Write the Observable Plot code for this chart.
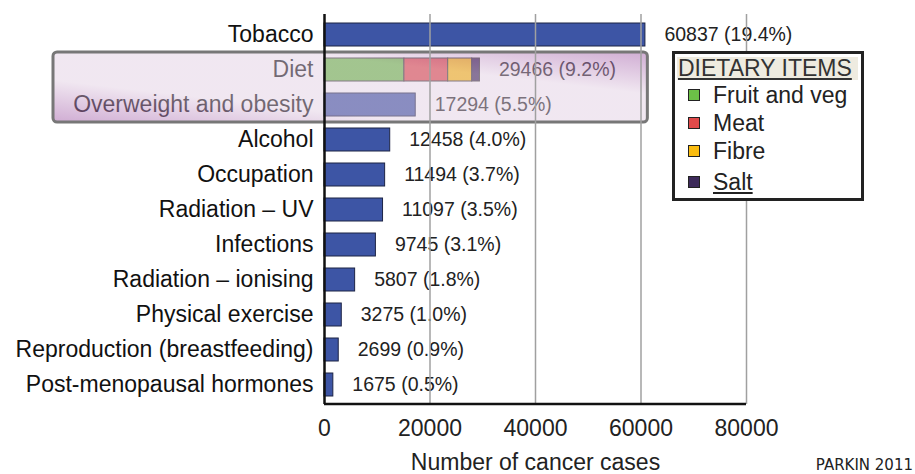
<!DOCTYPE html>
<html>
<head>
<meta charset="utf-8">
<script src="https://cdn.jsdelivr.net/npm/d3@7"></script>
<script src="https://cdn.jsdelivr.net/npm/@observablehq/plot@0.6"></script>
<style>
  body { margin: 0; background: #fff; }
  #wrap { position: relative; width: 915px; height: 474px; font-family: "Liberation Sans", Arial, sans-serif; background: #fff; overflow: hidden; }
  #wrap svg { position: absolute; left: 0; top: 0; }
  #legend { position: absolute; left: 672px; top: 51px; width: 186px; height: 144px; border: 3px solid #222; background: #fff; }
  #legend .hdr { position: absolute; left: 2px; top: 3px; width: 181px; height: 23px; background: #eeebe0; color: #333; font-size: 23px; line-height: 23px; text-decoration: underline; padding-left: 1px; box-sizing: border-box; }
  #legend .row { position: absolute; left: 13px; height: 26px; display: flex; align-items: center; font-size: 23px; color: #222; white-space: nowrap; }
  #legend .sw { width: 10px; height: 10px; border: 1.5px solid #222; margin-right: 13px; }
  #credit { position: absolute; right: 2px; top: 456px; font-family: "DejaVu Sans", sans-serif; font-size: 15px; color: #222; }
</style>
</head>
<body>
<div id="wrap"></div>
<script>
// ---- data ----
const categories = ["Tobacco", "Diet", "Overweight and obesity", "Alcohol", "Occupation",
  "Radiation – UV", "Infections", "Radiation – ionising", "Physical exercise",
  "Reproduction (breastfeeding)", "Post-menopausal hormones"];
const cases = [60837, 29466, 17294, 12458, 11494, 11097, 9745, 5807, 3275, 2699, 1675];
const percents = [19.4, 9.2, 5.5, 4.0, 3.7, 3.5, 3.1, 1.8, 1.0, 0.9, 0.5];
const dietItems = ["Fruit and veg", "Meat", "Fibre", "Salt"];
const dietCases = [15150, 8300, 4550, 1466];
const dietColors = ["#6cbf47", "#e04a4a", "#fbbd10", "#3d2a5a"];
const xTicks = [0, 20000, 40000, 60000, 80000];
const highlighted = ["Diet", "Overweight and obesity"];
const xTitle = "Number of cancer cases";
const legendTitle = "DIETARY ITEMS";
const credit = "PARKIN 2011";

// ---- tables ----
const rows = categories.map((c, i) => ({category: c, cases: cases[i], pct: percents[i]}));
const plainRows = rows.filter(d => d.category !== "Diet");
const dietRows = dietItems.map((item, i) => ({category: "Diet", item, cases: dietCases[i]}));

const plot = Plot.plot({
  width: 915, height: 474,
  marginTop: 14, marginBottom: 70, marginLeft: 324, marginRight: 169,
  style: {fontFamily: "'Liberation Sans', Arial, sans-serif", background: "transparent", color: "#111", overflow: "visible"},
  x: {domain: [0, 80000]},
  y: {domain: categories, paddingInner: 0.35, paddingOuter: 0.175},
  color: {domain: dietItems, range: dietColors},
  marks: [
    Plot.barX(plainRows, {x: "cases", y: "category", fill: "#3d55a5", stroke: "#1d2445", strokeWidth: 1}),
    Plot.barX(dietRows, {x: "cases", y: "category", fill: "item", stroke: "#333", strokeWidth: 1}),
    Plot.text(rows, {x: "cases", y: "category", text: d => `${d.cases} (${d.pct.toFixed(1)}%)`,
      textAnchor: "start", dx: 19, fontSize: 19.5, fill: "#222"}),
    Plot.axisX({ticks: xTicks, tickSize: 0, tickPadding: 15, fontSize: 23, label: null, tickFormat: d => String(d), fill: "#222"}),
    Plot.axisY({tickSize: 0, tickPadding: 11, fontSize: 23, label: null, fill: "#111"}),
    Plot.text([xTitle], {frameAnchor: "bottom", dy: 58, fontSize: 23, fill: "#222", lineAnchor: "middle"}),
    Plot.gridX(xTicks.slice(1), {stroke: "#a0a0a0", strokeOpacity: 1, strokeWidth: 1.5}),
    Plot.ruleX([0], {stroke: "#111", strokeWidth: 2.5})
  ]
});

// ---- highlight box over Diet / Overweight rows, from the plot's own scales ----
const xs = plot.scale("x"), ys = plot.scale("y");
const svg = d3.select(plot);
const gap = (ys.step - ys.bandwidth) / 2;
const boxTop = ys.apply(highlighted[0]) - gap;
const boxBottom = ys.apply(highlighted[highlighted.length - 1]) + ys.bandwidth + gap;
const boxLeft = 53;
const boxRight = xs.apply(61300);

const defs = svg.append("defs");
const grad = defs.append("linearGradient").attr("id", "hlgrad")
  .attr("x1", 0).attr("y1", 1).attr("x2", 1).attr("y2", 0);
grad.append("stop").attr("offset", 0).attr("stop-color", "#9b50a2").attr("stop-opacity", 0.47);
grad.append("stop").attr("offset", 0.3).attr("stop-color", "#e0cce1").attr("stop-opacity", 0.47);
grad.append("stop").attr("offset", 0.7).attr("stop-color", "#e0cce1").attr("stop-opacity", 0.47);
grad.append("stop").attr("offset", 1).attr("stop-color", "#9b50a2").attr("stop-opacity", 0.47);

svg.append("rect")
  .attr("x", boxLeft).attr("y", boxTop)
  .attr("width", boxRight - boxLeft).attr("height", boxBottom - boxTop)
  .attr("rx", 4)
  .attr("fill", "url(#hlgrad)")
  .attr("stroke", "#777").attr("stroke-width", 3);

// bring grid and axis line above the highlight
svg.selectAll('g[aria-label="x-grid"]').raise();
svg.selectAll('g[aria-label="rule"]').raise();

// bottom axis line
const yr = ys.range;
svg.append("line")
  .attr("x1", xs.apply(0)).attr("x2", xs.apply(80000))
  .attr("y1", Math.max(yr[0], yr[1])).attr("y2", Math.max(yr[0], yr[1]))
  .attr("stroke", "#111").attr("stroke-width", 2.5);

const wrap = document.getElementById("wrap");
wrap.appendChild(plot);

// ---- legend ----
const legend = document.createElement("div");
legend.id = "legend";
const hdr = document.createElement("div");
hdr.className = "hdr";
hdr.textContent = legendTitle;
legend.appendChild(hdr);
const rowTops = [28, 56, 84, 115];
dietItems.forEach((item, i) => {
  const r = document.createElement("div");
  r.className = "row";
  r.style.top = rowTops[i] + "px";
  const sw = document.createElement("div");
  sw.className = "sw";
  sw.style.background = dietColors[i];
  const t = document.createElement("span");
  t.textContent = item;
  if (item === "Salt") t.style.textDecoration = "underline";
  r.appendChild(sw); r.appendChild(t);
  legend.appendChild(r);
});
wrap.appendChild(legend);

const cr = document.createElement("div");
cr.id = "credit";
cr.textContent = credit;
wrap.appendChild(cr);
</script>
</body>
</html>
